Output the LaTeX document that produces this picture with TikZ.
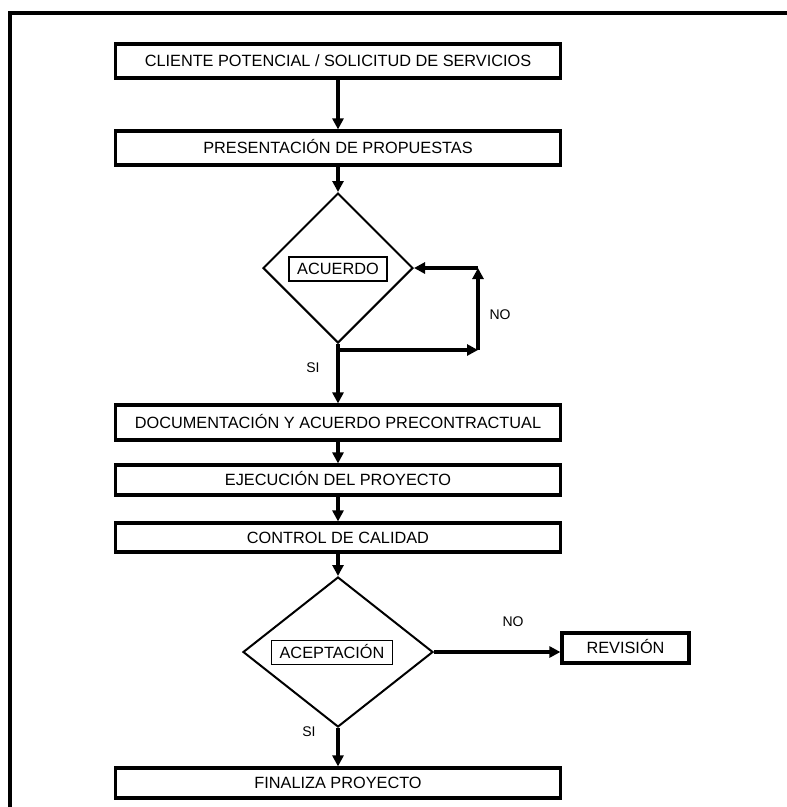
\documentclass[tikz,border=0pt]{standalone}
\usepackage{fontspec}
\setmainfont{Liberation Sans}
\usepackage{tikz}
\usetikzlibrary{shapes.geometric, arrows.meta}
\tikzstyle{procbox} = [draw, line width=3.2pt, minimum width=445pt, inner sep=0pt, text height=11.7pt, text depth=0pt, font=\fontsize{16.3}{19}\selectfont]
\tikzstyle{decision} = [draw, diamond, line width=2pt, inner sep=0pt]
\tikzstyle{tagbox} = [draw, line width=1.5pt, inner xsep=8pt, inner ysep=0pt, minimum height=24pt, text height=11.7pt, text depth=0pt, font=\fontsize{16.3}{19}\selectfont]
\tikzstyle{lbl} = [inner sep=0pt, font=\fontsize{14}{16}\selectfont]
\tikzstyle{arrow} = [line width=3.2pt,-{Triangle[length=11pt,width=11pt]}]

\begin{document}
\begin{tikzpicture}[x=1pt, y=-1pt]
	\useasboundingbox (0,0) rectangle (787,807);
	\draw[line width=3.8pt] (10,830) -- (10,13) -- (800,13);
	\node[procbox, minimum height=34pt] (cliente) at (338,61) {CLIENTE POTENCIAL / SOLICITUD DE SERVICIOS};
	\node[procbox, minimum height=34pt] (propuestas) at (338,148) {PRESENTACIÓN DE PROPUESTAS};
	\node[decision, minimum width=150pt, minimum height=150pt] (acuerdo) at (338,268) {};
	\node[tagbox] (acuerdotag) at (338,269) {ACUERDO};
	\node[procbox, minimum height=35pt] (documentacion) at (338,422.5) {DOCUMENTACIÓN Y ACUERDO PRECONTRACTUAL};
	\node[procbox, minimum height=30pt] (ejecucion) at (338,480) {EJECUCIÓN DEL PROYECTO};
	\node[procbox, minimum height=29pt] (control) at (338,537.5) {CONTROL DE CALIDAD};
	\node[decision, minimum width=190pt, minimum height=150pt] (aceptacion) at (338,652) {};
	\node[tagbox] (aceptaciontag) at (332,652.5) {ACEPTACIÓN};
	\node[procbox, minimum width=127pt, minimum height=30pt] (revision) at (625.5,648) {REVISIÓN};
	\node[procbox, minimum height=30pt] (finaliza) at (338,783) {FINALIZA PROYECTO};
	\coordinate (split) at (338,350);
	\coordinate (loopb) at (478,350);
	\coordinate (loopt) at (478,268);
	\draw[arrow] (cliente) -- (propuestas);
	\draw[arrow] (propuestas) -- (acuerdo.north);
	\draw[arrow] (acuerdo.south) -- (documentacion.north);
	\draw[arrow] (split) -- (loopb);
	\draw[arrow] (loopb) -- (loopt);
	\draw[arrow] (loopt) -- (acuerdo.east);
	\draw[arrow] (documentacion) -- (ejecucion);
	\draw[arrow] (ejecucion) -- (control);
	\draw[arrow] (control) -- (aceptacion.north);
	\draw[arrow] (aceptacion.east) -- (aceptacion.east -| revision.west);
	\draw[arrow] (aceptacion.south) -- (finaliza.north);
	\node[lbl] (si1) at (313,368) {SI};
	\node[lbl] (no1) at (500,315) {NO};
	\node[lbl] (no2) at (513,622) {NO};
	\node[lbl] (si2) at (309,732) {SI};
\end{tikzpicture}
\end{document}
